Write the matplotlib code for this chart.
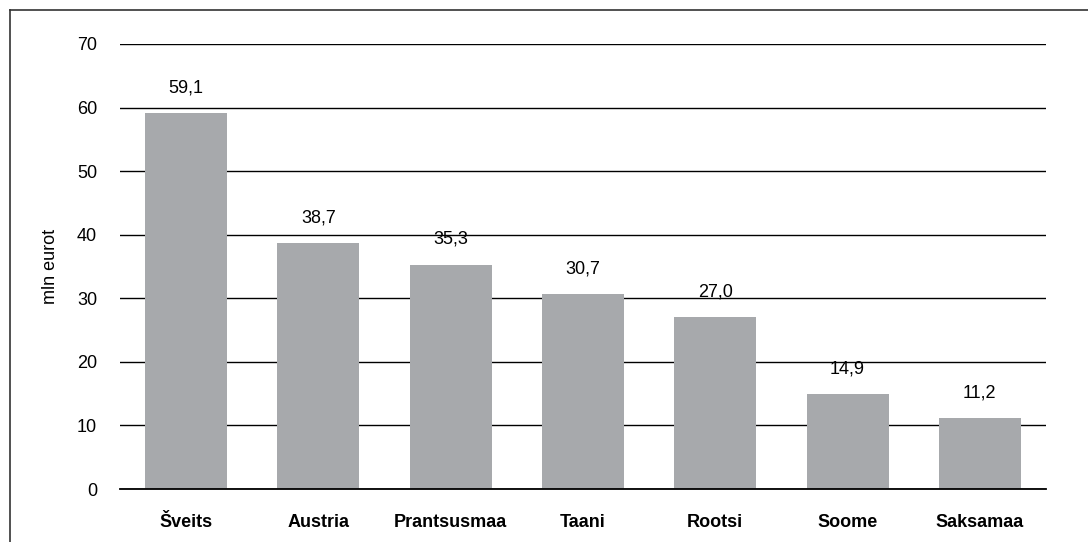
import matplotlib
matplotlib.use("Agg")
import matplotlib.pyplot as plt
from matplotlib.lines import Line2D

plt.rcParams['font.family'] = ['Liberation Sans', 'DejaVu Sans']

categories = ["Šveits", "Austria", "Prantsusmaa", "Taani", "Rootsi", "Soome", "Saksamaa"]
values = [59.1, 38.7, 35.3, 30.7, 27.0, 14.9, 11.2]
yticks = [0, 10, 20, 30, 40, 50, 60, 70]

W, H = 1088, 542
fig = plt.figure(figsize=(W / 100, H / 100), dpi=100)
ax = fig.add_axes([120 / W, 1 - 489 / H, (1046 - 120) / W, (489 - 44) / H])

x = range(len(categories))
bars = ax.bar(x, values, width=0.62, color="#a7a9ac", zorder=3)
ax.set_xlim(-0.5, len(categories) - 0.5)
ax.set_ylim(0, 70)
ax.set_yticks(yticks)
ax.set_yticklabels([str(t) for t in yticks], fontsize=13)
ax.set_xticks(list(x))
ax.set_xticklabels(categories, fontsize=13, fontweight="bold")
ax.tick_params(axis="both", length=0)
ax.tick_params(axis="y", pad=16.5)
ax.tick_params(axis="x", pad=18)
for s in ax.spines.values():
    s.set_visible(False)
ax.yaxis.grid(True, color="black", linewidth=1.0, zorder=1)
ax.axhline(0, color="black", linewidth=1.3, zorder=4, clip_on=False)
ax.set_axisbelow(True)
ax.set_ylabel("mln eurot", fontsize=13, labelpad=13)

for b, v in zip(bars, values):
    ax.annotate(f"{v:.1f}".replace(".", ","), (b.get_x() + b.get_width() / 2, v),
                xytext=(0, 12), textcoords="offset points", ha="center", va="bottom",
                fontsize=13)

fig.add_artist(Line2D([9.5 / W, 9.5 / W], [0, 1 - 9.5 / H], color="#333333", lw=1.2, transform=fig.transFigure))
fig.add_artist(Line2D([9.5 / W, 1], [1 - 9.5 / H, 1 - 9.5 / H], color="#333333", lw=1.2, transform=fig.transFigure))

fig.savefig("out.png", dpi=100)
